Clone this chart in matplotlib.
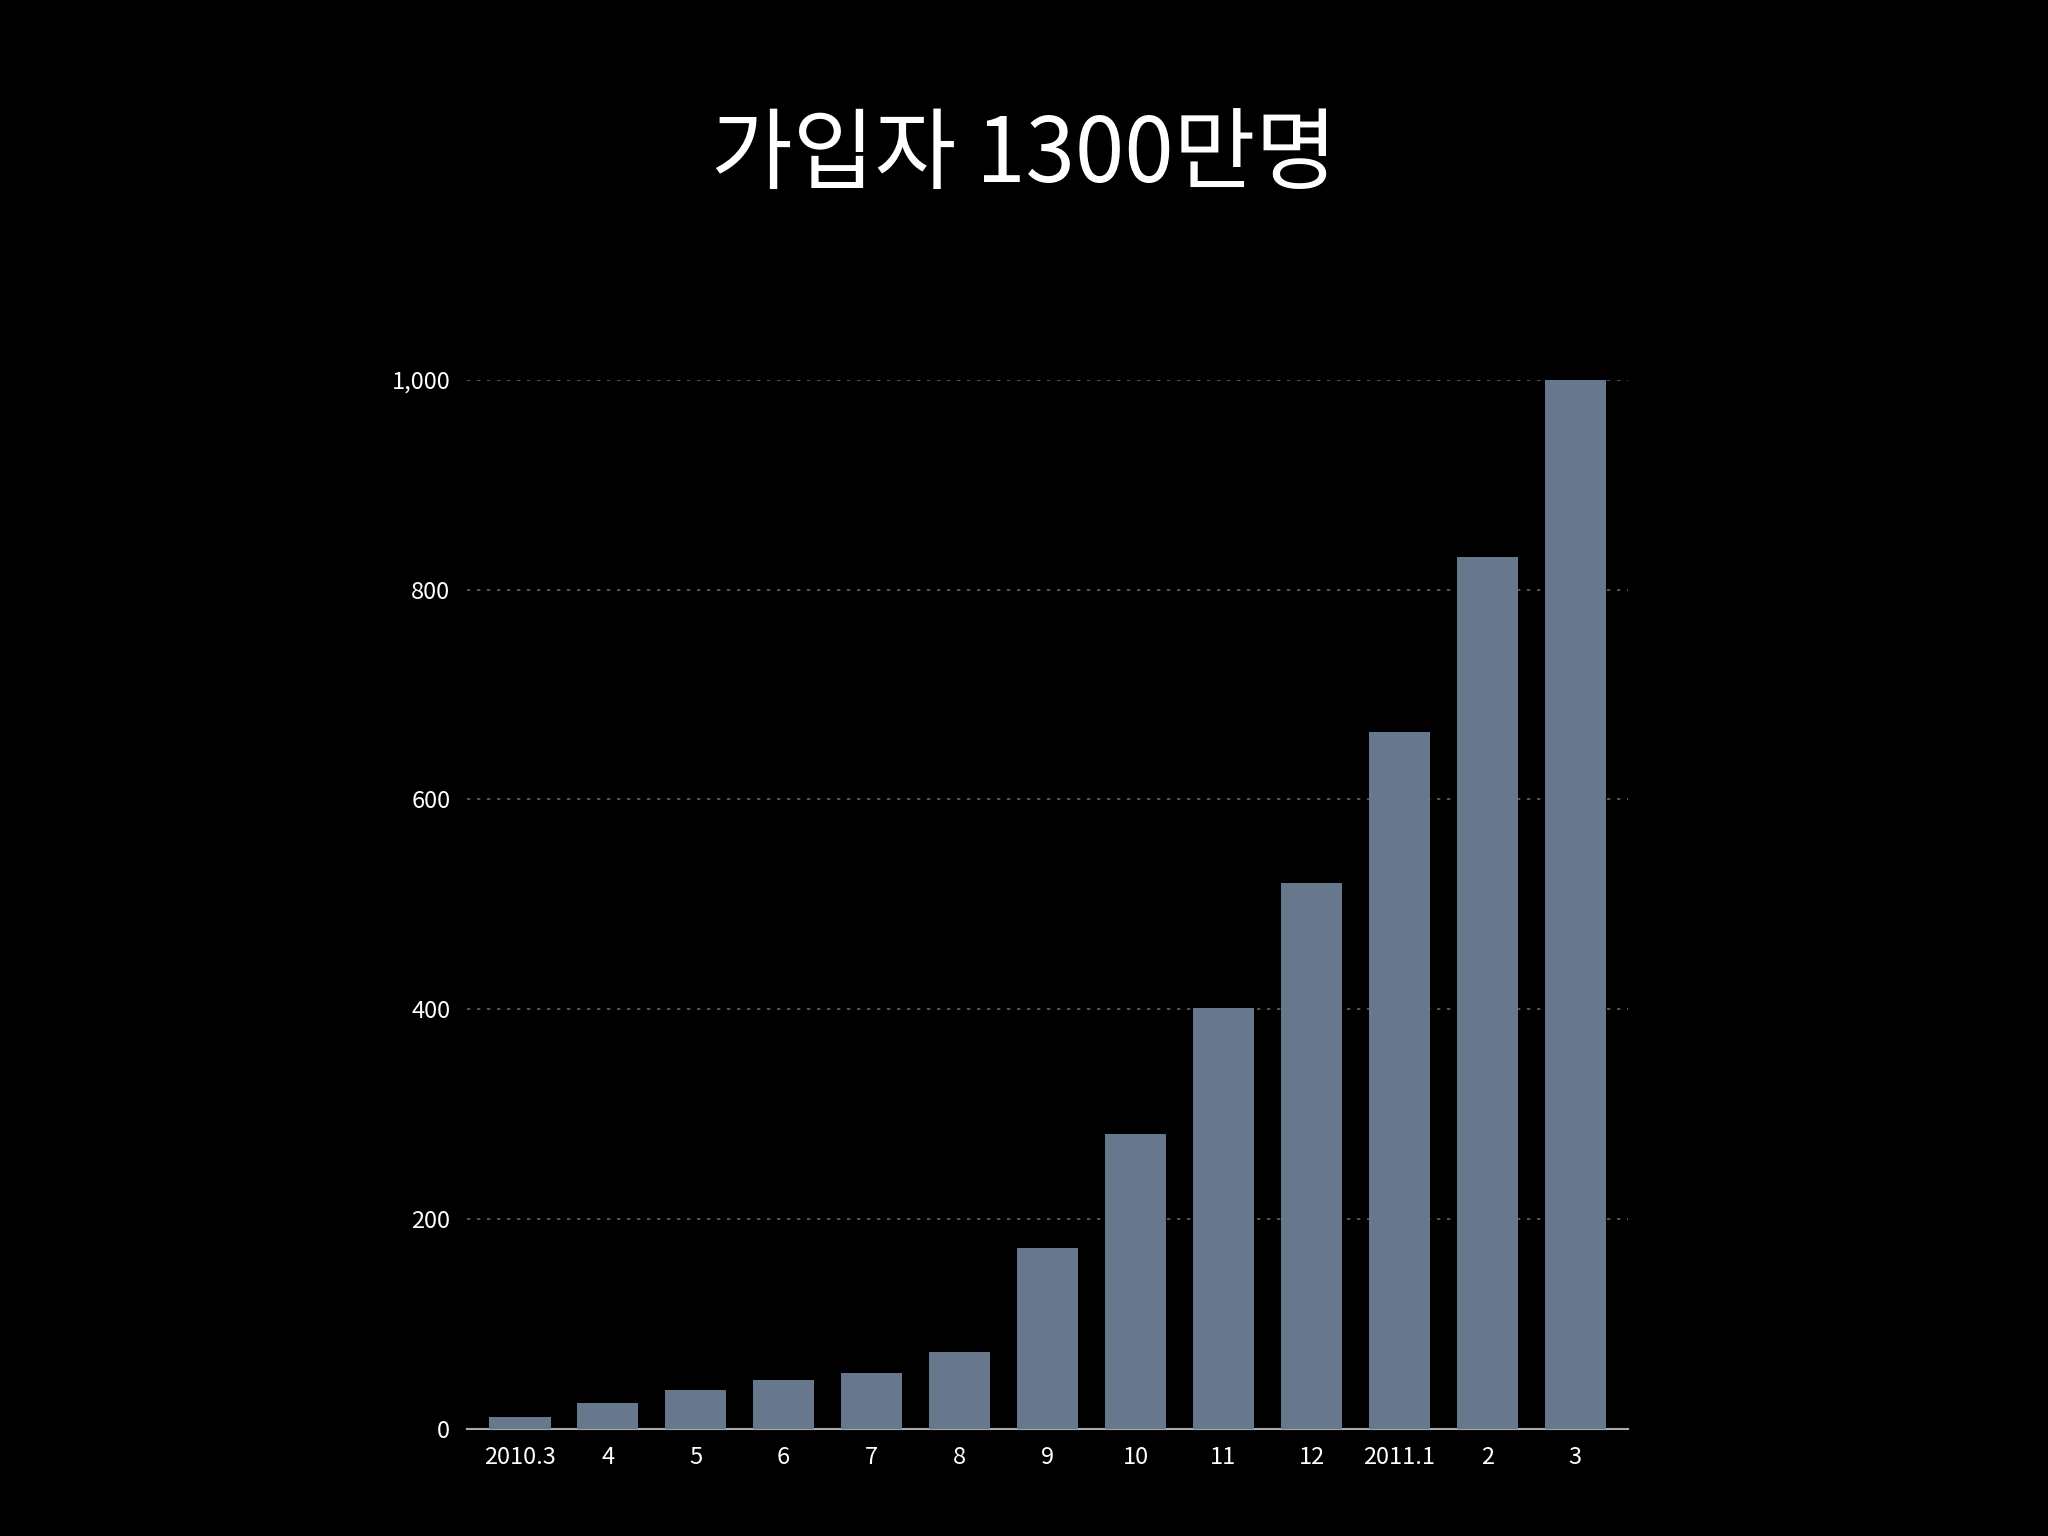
import matplotlib
matplotlib.use("Agg")
import matplotlib.pyplot as plt

months = ["2010.3", "4", "5", "6", "7", "8", "9", "10", "11", "12", "2011.1", "2", "3"]
subscribers = [11, 25, 37, 47, 53, 73, 172, 281, 401, 520, 664, 831, 1000]
yticks = [0, 200, 400, 600, 800, 1000]
ytick_labels = ["0", "200", "400", "600", "800", "1,000"]
title = "가입자 1300만명"

plt.rcParams['font.family'] = ['Noto Sans CJK KR', 'DejaVu Sans']
fig = plt.figure(figsize=(20.48, 15.36), dpi=100, facecolor="black")
ax = fig.add_axes([0.228, 0.0697, 0.567, 0.683], facecolor="black")
x = list(range(len(months)))
ax.bar(x, subscribers, width=0.7, color="#67788c", zorder=3)
ax.set_xlim(-0.6, len(months) - 0.4)
ax.set_ylim(0, 1000)
ax.set_yticks(yticks)
ax.set_yticklabels(ytick_labels)
ax.set_xticks(x)
ax.set_xticklabels(months)
ax.tick_params(colors="white", labelsize=17, length=0, pad=12)
ax.yaxis.grid(True, color="#666666", linestyle=(0, (2, 4)), linewidth=1.2, zorder=0)
for s in ["top", "right", "left"]:
    ax.spines[s].set_visible(False)
ax.spines["bottom"].set_color("#aaaaaa")
ax.spines["bottom"].set_linewidth(1.5)
fig.text(0.5, 0.898, title, color="white", fontsize=64, ha="center", va="center")
fig.savefig("out.png", dpi=100, facecolor="black")
